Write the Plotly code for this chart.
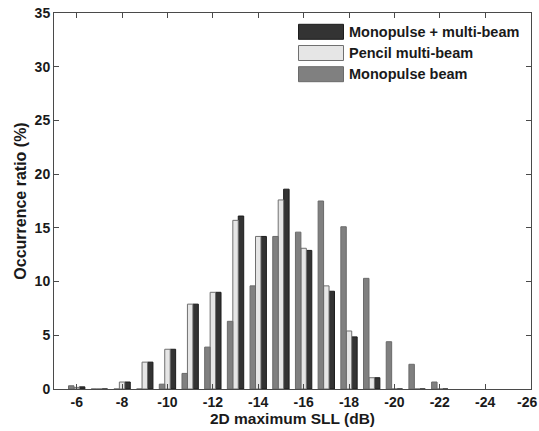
import plotly.graph_objects as go

# SLL bins (dB)
sll_bins = [-6, -7, -8, -9, -10, -11, -12, -13, -14, -15, -16, -17, -18, -19, -20, -21, -22]

# Occurrence ratio (%) per scheme
monopulse_multibeam = [0.2, 0, 0.65, 2.5, 3.7, 7.9, 9.0, 16.1, 14.2, 18.6, 12.9, 9.1, 4.85, 1.05, 0, 0, 0]
pencil_multibeam = [0.15, 0, 0.65, 2.5, 3.7, 7.9, 9.0, 15.7, 14.2, 17.6, 13.1, 9.6, 5.4, 1.05, 0, 0, 0]
monopulse_beam = [0.3, 0, 0, 0, 0.45, 1.45, 3.9, 6.3, 9.6, 14.2, 14.6, 17.5, 15.1, 10.3, 4.4, 2.3, 0.65]

x_ticks = [-6, -8, -10, -12, -14, -16, -18, -20, -22, -24, -26]
y_ticks = [0, 5, 10, 15, 20, 25, 30, 35]

FONT = "Liberation Sans, Arial, sans-serif"
TXT = "#1a1a1a"
BAR_W = 0.24

series = [
    # name, values, fill, edge, offset (axis runs right-to-left)
    ("Monopulse + multi-beam", monopulse_multibeam, "#333333", "#1c1c1c", -1.5 * BAR_W),
    ("Pencil multi-beam", pencil_multibeam, "#e6e6e6", "#707070", -0.5 * BAR_W),
    ("Monopulse beam", monopulse_beam, "#808080", "#6a6a6a", 0.5 * BAR_W),
]

fig = go.Figure()
for name, vals, fill, edge, off in series:
    fig.add_trace(go.Bar(
        x=sll_bins, y=vals, name=name,
        width=BAR_W, offset=off,
        marker=dict(color=fill, line=dict(color=edge, width=1)),
        showlegend=False,
    ))

# Legend drawn as patches + labels in the upper right corner
L, R, T, B = 54, 8, 13, 42
W, H = 539, 431
pw, ph = W - L - R, H - T - B

def px(xp):
    return (xp - L) / pw

def py(yp):
    return (H - B - yp) / ph

for i, (name, vals, fill, edge, off) in enumerate(series):
    top = 24.3 + i * 21.2
    fig.add_shape(type="rect", xref="paper", yref="paper",
                  x0=px(298.5), x1=px(343.5), y0=py(top + 15), y1=py(top),
                  fillcolor=fill, line=dict(color=edge, width=1))
    fig.add_annotation(xref="paper", yref="paper", x=px(347), y=py(top + 7.5),
                       text=name, showarrow=False, xanchor="left", yanchor="middle",
                       font=dict(family=FONT, size=14.5, color=TXT, weight="bold"))

# The last x tick label sits at the page edge: pin it flush right so it stays whole
tick_text = [str(v) for v in x_ticks[:-1]] + [""]
fig.add_annotation(xref="paper", yref="paper", x=px(538.5), y=0,
                   text=str(x_ticks[-1]), showarrow=False,
                   xanchor="right", yanchor="top", yshift=-3,
                   font=dict(family=FONT, size=14, color=TXT, weight="bold"))

axis_common = dict(
    showline=True, linecolor="#4a4a4a", linewidth=1, mirror="ticks",
    ticks="inside", ticklen=5, tickcolor="#4a4a4a", tickwidth=1,
    showgrid=False, zeroline=False,
    tickfont=dict(family=FONT, size=14, color=TXT, weight="bold"),
)

fig.update_layout(
    width=W, height=H,
    margin=dict(l=L, r=R, t=T, b=B),
    paper_bgcolor="white", plot_bgcolor="white",
    barmode="overlay",
    xaxis=dict(range=[-5, -26.02], tickvals=x_ticks, ticktext=tick_text,
               automargin=False,
               title=dict(text="2D maximum SLL (dB)", standoff=0,
                          font=dict(family=FONT, size=15.5, color=TXT, weight="bold")),
               **axis_common),
    yaxis=dict(range=[0, 35], tickvals=y_ticks, automargin=False,
               title=dict(text="Occurrence ratio (%)", standoff=4,
                          font=dict(family=FONT, size=16, color=TXT, weight="bold")),
               **axis_common),
)

fig.write_html("out.html")
